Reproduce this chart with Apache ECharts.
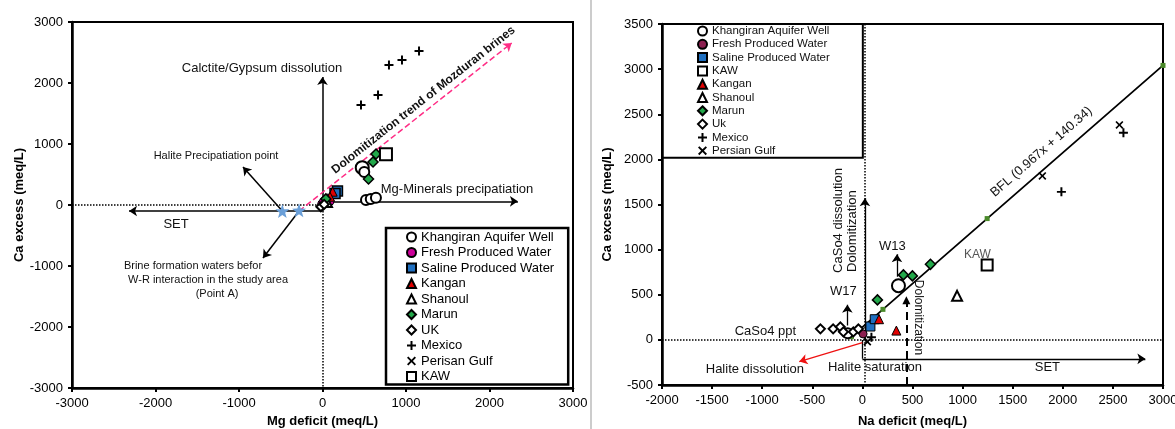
<!DOCTYPE html>
<html>
<head>
<meta charset="utf-8">
<script src="https://cdn.jsdelivr.net/npm/echarts@6/dist/echarts.min.js"></script>
<style>
  html, body { margin: 0; padding: 0; background: #fff; }
  #chart { width: 1175px; height: 429px; }
</style>
</head>
<body>
<div id="chart"></div>
<script>
// ---- left panel data (Mg deficit / Ca excess, meq/L) ----
const leftKhangiran = [{ value: [476, 612], symbolSize: 13 }, [500, 540], [521, 82], [578, 98], [640, 118]];
const leftFresh = [[30, 82], [-10, 16], [66, 115], [10, 54], [90, 60]];
const leftSaline = [[179, 230], [150, 190]];
const leftKangan = [[122, 218], [90, 136]];
const leftShanoul = [[60, 40]];
const leftMarun = [[641, 836], [605, 705], [551, 426], [40, 100]];
const leftUK = [[-20, -30], [20, 10]];
const leftMexico = [[461, 1639], [665, 1803], [796, 2295], [952, 2377], [1156, 2525]];
const leftGulf = [];
const leftKAW = [[760, 830]];
const leftStars = [[-481, -98], [-281, -88]];

// ---- right panel data (Na deficit / Ca excess, meq/L) ----
const rightKhangiran = [{ value: [360, 600], symbolSize: 13 }, [-147, 74]];
const rightFresh = [[7, 66]];
const rightSaline = [[80, 148], [123, 229]];
const rightKAW = [[1245, 831]];
const rightKangan = [[166, 229], [339, 103]];
const rightShanoul = [[945, 488]];
const rightMarun = [[409, 720], [499, 709], [679, 837], [150, 443]];
const rightUk = [[-419, 122], [-292, 122], [-220, 144], [-190, 89], [-90, 89], [-40, 122]];
const rightMexico = [[2605, 2294], [1986, 1640], [90, 30]];
const rightGulf = [[2565, 2382], [1796, 1817], [50, -20]];
const bflLine = [[-110, 35], [205, 338], [1245, 1344], [3000, 3041]];

// axis ticks
const leftTicks = { min: -3000, max: 3000, interval: 1000 };
const rightXTicks = { min: -2000, max: 3000, interval: 500 };
const rightYTicks = { min: -500, max: 3500, interval: 500 };

// annotation lines (data coords)
const leftArrows = [
  [[0, -98], [0, 2100]],
  [[0, 60], [2340, 60]],
  [[0, -98], [-2317, -98]],
  [[-481, -98], [-952, 623]],
  [[-281, -98], [-713, -869]]
];
const leftDotted = [[[-3000, 0], [0, 0]], [[0, 0], [0, -3000]]];
const leftTrend = [[[-281, -98], [2266, 2656]]];

const rightArrows = [
  [[25, -20], [25, 1570]],
  [[345, 700], [345, 950]],
  [[-150, 160], [-150, 390]],
  [[0, -210], [2824, -210]]
];
const rightRed = [[[0, -30], [-630, -240]]];
const rightPlain = [[[0, 0], [0, -210]]];
const rightDotted = [[[-2000, 0], [3000, 0]], [[25, 3500], [25, -500]]];
const rightDolo = [[[439, -500], [439, 440]]];

// annotation texts: grid, coord, text
const notes = [
  { g: 0, c: [-725, 2246], t: 'Calctite/Gypsum dissolution', fs: 13 },
  { g: 0, c: [-1275, 803], t: 'Halite Precipatiation point', fs: 11 },
  { g: 0, c: [-1754, -311], t: 'SET', fs: 13 },
  { g: 0, c: [-1551, -1000], t: 'Brine formation waters befor', fs: 11 },
  { g: 0, c: [-1371, -1230], t: 'W-R interaction in the study area', fs: 11 },
  { g: 0, c: [-1263, -1459], t: '(Point A)', fs: 11 },
  { g: 0, c: [1611, 262], t: 'Mg-Minerals precipatiation', fs: 13 },
  { g: 0, c: [1210, 1721], t: 'Dolomitization trend of Mozduran brines', fs: 12, bold: true, rot: 38.3 },
  { g: 1, c: [-190, 532], t: 'W17', fs: 13 },
  { g: 1, c: [299, 1030], t: 'W13', fs: 13 },
  { g: 1, c: [-968, 89], t: 'CaSo4 ppt', fs: 13 },
  { g: 1, c: [-1073, -332], t: 'Halite dissolution', fs: 13 },
  { g: 1, c: [125, -310], t: 'Halite saturation', fs: 13 },
  { g: 1, c: [1846, -310], t: 'SET', fs: 13 },
  { g: 1, c: [1148, 942], t: 'KAW', fs: 12, color: '#555' },
  { g: 1, c: [1786, 2083], t: 'BFL (0.967x + 140.34)', fs: 13, rot: 41 },
  { g: 1, c: [-240, 742], t: 'CaSo4 dissolution', fs: 13, rot: 90, align: 'left' },
  { g: 1, c: [-100, 753], t: 'Dolomitization', fs: 13, rot: 90, align: 'left' },
  { g: 1, c: [559, 665], t: 'Dolomitization', fs: 12, rot: -90, align: 'left' }
];

const FONT = '"Liberation Sans", Arial, sans-serif';
const PLUS = 'path://M3.9,0h2.2v3.9h3.9v2.2h-3.9v3.9h-2.2v-3.9h-3.9v-2.2h3.9z';
const CROSS = 'path://M1.5,0L5,3.5L8.5,0L10,1.5L6.5,5L10,8.5L8.5,10L5,6.5L1.5,10L0,8.5L3.5,5L0,1.5Z';

function axis(gridIndex, t, name, gap) {
  return {
    type: 'value', gridIndex: gridIndex,
    min: t.min, max: t.max, interval: t.interval,
    name: name, nameLocation: 'middle', nameGap: gap,
    nameTextStyle: { fontFamily: FONT, fontSize: 13, fontWeight: 'bold', color: '#000' },
    axisLine: { onZero: false, lineStyle: { color: '#000', width: 2.5 } },
    axisTick: { inside: false, length: 4, lineStyle: { color: '#000', width: 2 } },
    axisLabel: { fontFamily: FONT, fontSize: 13, color: '#000', margin: 9,
      formatter: function (v) { return String(v); } },
    splitLine: { show: false }
  };
}

function pts(name, data, g, symbol, size, style) {
  return {
    type: 'scatter', name: name, data: data,
    xAxisIndex: g, yAxisIndex: g,
    symbol: symbol, symbolSize: size, itemStyle: Object.assign({ opacity: 1 }, style), z: 5
  };
}

function segs(list, g, lineStyle, symbol, z) {
  return {
    type: 'lines', coordinateSystem: 'cartesian2d', xAxisIndex: g, yAxisIndex: g,
    data: list.map(function (c) { return { coords: c }; }),
    symbol: symbol || 'none', symbolSize: 8,
    lineStyle: Object.assign({ opacity: 1, curveness: 0 }, lineStyle), silent: true, z: z || 2
  };
}

const open = { color: '#fff', borderColor: '#000', borderWidth: 2 };
const blk = { color: '#000' };

const series = [
  // annotations left
  segs(leftDotted, 0, { color: '#000', width: 1.5, type: 'dotted' }),
  segs(leftArrows, 0, { color: '#000', width: 1.5 }, ['none', 'arrow']),
  segs(leftTrend, 0, { color: '#ff2d85', width: 1.5, type: 'dashed' }, ['none', 'arrow']),
  // annotations right
  segs(rightDotted, 1, { color: '#000', width: 1.5, type: 'dotted' }),
  segs(rightArrows, 1, { color: '#000', width: 1.3 }, ['none', 'arrow']),
  segs(rightPlain, 1, { color: '#000', width: 1.3 }),
  segs(rightRed, 1, { color: '#ee1111', width: 1.3 }, ['none', 'arrow']),
  segs(rightDolo, 1, { color: '#000', width: 2, type: [8, 5] }, ['none', 'triangle']),
  // left points
  pts('Khangiran Aquifer Well', leftKhangiran, 0, 'circle', 10, open),
  pts('Fresh Produced Water', leftFresh, 0, 'circle', 8, { color: '#cc0099', borderColor: '#000', borderWidth: 1 }),
  pts('Saline Produced Water', leftSaline, 0, 'rect', 10, { color: '#1f6fc0', borderColor: '#000', borderWidth: 1.5 }),
  pts('Kangan', leftKangan, 0, 'triangle', 9, { color: '#e00000', borderColor: '#000', borderWidth: 1 }),
  pts('Shanoul', leftShanoul, 0, 'triangle', 9, open),
  pts('Marun', leftMarun, 0, 'diamond', 10, { color: '#22a84a', borderColor: '#000', borderWidth: 1.5 }),
  pts('UK', leftUK, 0, 'diamond', 9, open),
  pts('Mexico', leftMexico, 0, PLUS, 9, blk),
  pts('Perisan Gulf', leftGulf, 0, CROSS, 8, blk),
  pts('KAW', leftKAW, 0, 'rect', 12, open),
  pts('Point A', leftStars, 0, 'path://M5,0L6.2,3.6L10,3.7L7,6L8.1,9.6L5,7.5L1.9,9.6L3,6L0,3.7L3.8,3.6Z', 14,
    { color: '#6a9fd8' }),
  // right points
  {
    type: 'line', name: 'BFL', data: bflLine, xAxisIndex: 1, yAxisIndex: 1,
    symbol: 'rect', symbolSize: 5, showSymbol: true,
    itemStyle: { color: '#4a8a2a' }, lineStyle: { color: '#000', width: 1.8 }, z: 3, silent: true
  },
  pts('Khangiran Aquifer Well', rightKhangiran, 1, 'circle', 10, open),
  pts('Fresh Produced Water', rightFresh, 1, 'circle', 8, { color: '#8c1f50', borderColor: '#000', borderWidth: 1 }),
  pts('Saline Produced Water', rightSaline, 1, 'rect', 9, { color: '#1f6fc0', borderColor: '#000', borderWidth: 1 }),
  pts('KAW', rightKAW, 1, 'rect', 11, open),
  pts('Kangan', rightKangan, 1, 'triangle', 9, { color: '#e00000', borderColor: '#000', borderWidth: 1 }),
  pts('Shanoul', rightShanoul, 1, 'triangle', 10, open),
  pts('Marun', rightMarun, 1, 'diamond', 10, { color: '#22a84a', borderColor: '#000', borderWidth: 1.5 }),
  pts('Uk', rightUk, 1, 'diamond', 9, open),
  pts('Mexico', rightMexico, 1, PLUS, 9, blk),
  pts('Persian Gulf', rightGulf, 1, CROSS, 8, blk)
];

const chart = echarts.init(document.getElementById('chart'));
chart.setOption({
  animation: false,
  backgroundColor: '#fff',
  grid: [
    { left: 72, top: 22, width: 501, height: 366, show: true, borderColor: '#000', borderWidth: 2,
      outerBoundsMode: 'none', containLabel: false },
    { left: 662, top: 24, width: 501, height: 361, show: true, borderColor: '#000', borderWidth: 2,
      outerBoundsMode: 'none', containLabel: false }
  ],
  xAxis: [axis(0, leftTicks, 'Mg deficit (meq/L)', 26), axis(1, rightXTicks, 'Na deficit (meq/L)', 30)],
  yAxis: [axis(0, leftTicks, 'Ca excess (meq/L)', 46), axis(1, rightYTicks, 'Ca excess (meq/L)', 48)],
  legend: [
    {
      data: ['Khangiran Aquifer Well', 'Fresh Produced Water', 'Saline Produced Water', 'Kangan', 'Shanoul',
        'Marun', 'UK', 'Mexico', 'Perisan Gulf', 'KAW'],
      orient: 'vertical', left: 386, top: 228, padding: [2, 14, 1, 20],
      borderColor: '#000', borderWidth: 2.5, itemWidth: 9, itemHeight: 9, itemGap: 1.5,
      selectedMode: false,
      textStyle: { fontFamily: FONT, fontSize: 13, lineHeight: 14, color: '#000' }
    },
    {
      data: [
        'Khangiran Aquifer Well',
        { name: 'Fresh Produced Water', itemStyle: { color: '#8c1f50' } },
        'Saline Produced Water', 'KAW', 'Kangan', 'Shanoul', 'Marun', 'Uk', 'Mexico', 'Persian Gulf'
      ],
      orient: 'vertical', left: 662, top: 24, padding: [1, 33, 1, 35],
      borderColor: '#000', borderWidth: 2, itemWidth: 9, itemHeight: 9, itemGap: 1.3,
      selectedMode: false,
      textStyle: { fontFamily: FONT, fontSize: 11.5, lineHeight: 12, color: '#111' }
    }
  ],
  series: series
});

// place annotation text through the axes
const graphics = notes.map(function (n) {
  const p = chart.convertToPixel({ gridIndex: n.g }, n.c);
  return {
    type: 'text', x: p[0], y: p[1], rotation: (n.rot || 0) * Math.PI / 180, z: 10, silent: true,
    style: {
      text: n.t, fill: n.color || '#111', fontFamily: FONT, fontSize: n.fs,
      fontWeight: n.bold ? 'bold' : 'normal',
      align: n.align || 'center', verticalAlign: 'middle'
    }
  };
});
graphics.push({
  type: 'line', shape: { x1: 591, y1: 0, x2: 591, y2: 429 }, silent: true,
  style: { stroke: '#999', lineWidth: 1 }
});
chart.setOption({ graphic: graphics });
</script>
</body>
</html>
